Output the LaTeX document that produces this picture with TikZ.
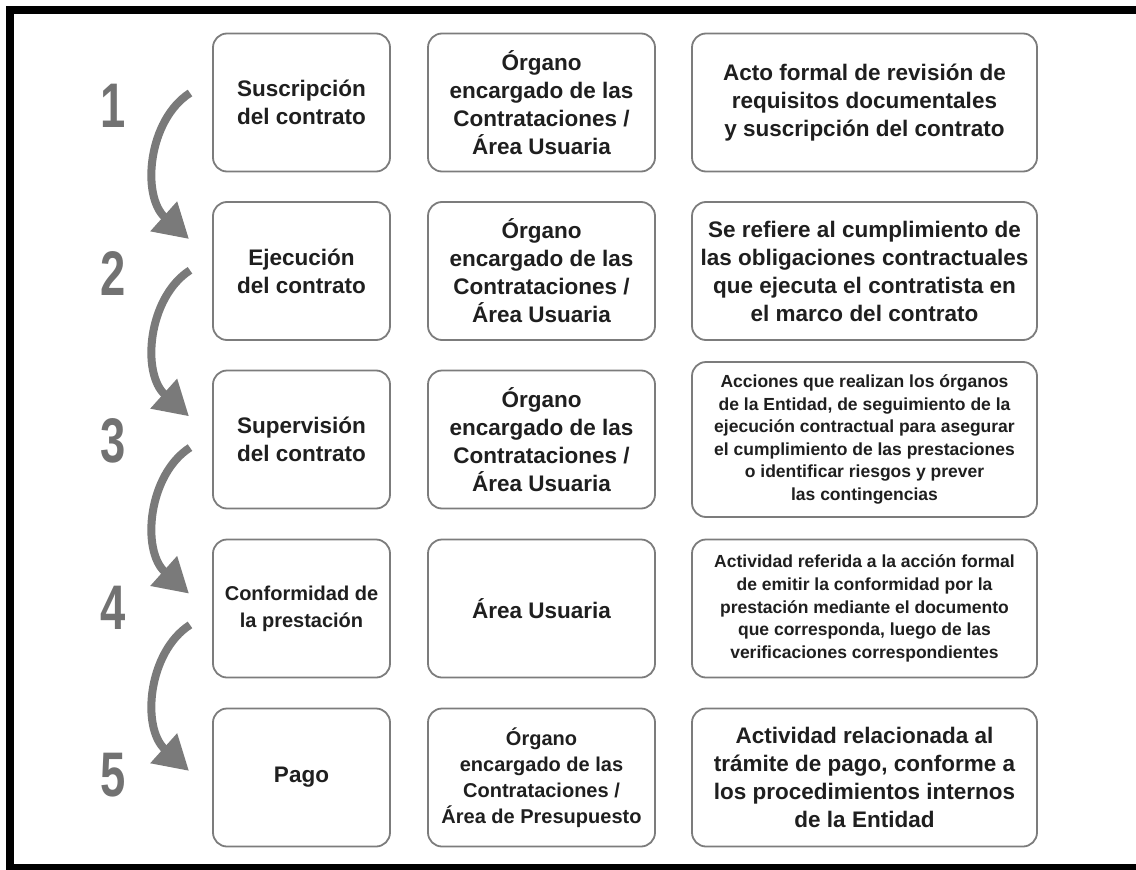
\documentclass[tikz,border=0pt]{standalone}
\usepackage{fontspec}
\setmainfont{Liberation Sans}
\usetikzlibrary{arrows.meta,calc}
\definecolor{boxgray}{HTML}{7c7c7c}
\definecolor{arrowgray}{HTML}{7a7a7a}
\definecolor{numgray}{HTML}{727272}
\definecolor{textdark}{HTML}{1f1f1f}

\begin{document}
\begin{tikzpicture}[x=1pt, y=-1pt,
	cell/.style={draw=boxgray, line width=1.8pt, rounded corners=14pt,
		fill=white, align=center, inner sep=0pt, text=textdark,
		font=\bfseries\fontsize{22.5}{28}\selectfont},
	stagecell/.style={cell, minimum width=177pt, minimum height=138pt},
	organcell/.style={cell, minimum width=227pt, minimum height=138pt},
	notecell/.style={cell, minimum width=345pt, minimum height=138pt},
	smalltext/.style={font=\bfseries\fontsize{17.5}{22.6}\selectfont},
	numlabel/.style={inner sep=0pt, text=numgray,
		font=\bfseries\fontsize{63}{63}\selectfont},
	flow/.style={draw=arrowgray, line width=8pt,
		-{Triangle[length=34pt, width=38pt]}}]

% parameters %{{{2

	\def\colA{301.5}
	\def\colB{541.5}
	\def\colC{864.5}
	\def\rowpitch{168.75}

	\useasboundingbox (0,0) rectangle (1136,870);

% frame %{{{2

	\fill[black] (6,6) rectangle (14,870);
	\fill[black] (6,6) rectangle (1136,14);
	\fill[black] (6,864) rectangle (1136,870);

% coordinates %{{{2

	\foreach \i in {1,...,5} {
		\coordinate (S\i) at (190,{93+177.3*(\i-1)});
		\coordinate (T\i) at (189,{239+177.3*(\i-1)});
	}

% numbers %{{{2

	\foreach \i in {1,...,5} {
		\node[numlabel] (n\i) at (113,{106+167.3*(\i-1)}) {\scalebox{0.72}[1]{\i}};
	}

% stage boxes %{{{2

	\node[stagecell] (st1) at (\colA,102.5) {Suscripción\\del contrato};
	\node[stagecell] (st2) at (\colA,271) {Ejecución\\del contrato};
	\node[stagecell] (st3) at (\colA,439.5) {Supervisión\\del contrato};
	\node[stagecell, font=\bfseries\fontsize{20}{27}\selectfont] (st4) at (\colA,608.5)
		{Conformidad de\\la prestación};
	\node[stagecell] (st5) at (\colA,777.5) {Pago};

% organ boxes %{{{2

	\node[organcell] (org1) at (\colB,102.5) {Órgano\\encargado de las\\Contrataciones /\\Área Usuaria};
	\node[organcell] (org2) at (\colB,271) {Órgano\\encargado de las\\Contrataciones /\\Área Usuaria};
	\node[organcell] (org3) at (\colB,439.5) {Órgano\\encargado de las\\Contrataciones /\\Área Usuaria};
	\node[organcell] (org4) at (\colB,608.5) {Área Usuaria};
	\node[organcell, font=\bfseries\fontsize{20}{26}\selectfont] (org5) at (\colB,777.5)
		{Órgano\\encargado de las\\Contrataciones /\\Área de Presupuesto};

% note boxes %{{{2

	\node[notecell] (note1) at (\colC,102.5)
		{Acto formal de revisión de\\requisitos documentales\\y suscripción del contrato};
	\node[notecell] (note2) at (\colC,271)
		{Se refiere al cumplimiento de\\las obligaciones contractuales\\que ejecuta el contratista en\\el marco del contrato};
	\node[notecell, smalltext, minimum height=155pt] (note3) at (\colC,439.5)
		{Acciones que realizan los órganos\\de la Entidad, de seguimiento de la\\ejecución contractual para asegurar\\el cumplimiento de las prestaciones\\o identificar riesgos y prever\\las contingencias};
	\node[notecell, smalltext] (note4) at (\colC,608.5)
		{Actividad referida a la acción formal\\de emitir la conformidad por la\\prestación mediante el documento\\que corresponda, luego de las\\verificaciones correspondientes};
	\node[notecell] (note5) at (\colC,777.5)
		{Actividad relacionada al\\trámite de pago, conforme a\\los procedimientos internos\\de la Entidad};

% arrows %{{{2

	\foreach \i in {1,...,4} {
		\draw[flow] (S\i) .. controls ($(S\i)+(-42,27)$) and ($(T\i)+(-48,-43)$) .. (T\i);
	}

\end{tikzpicture}
\end{document}
